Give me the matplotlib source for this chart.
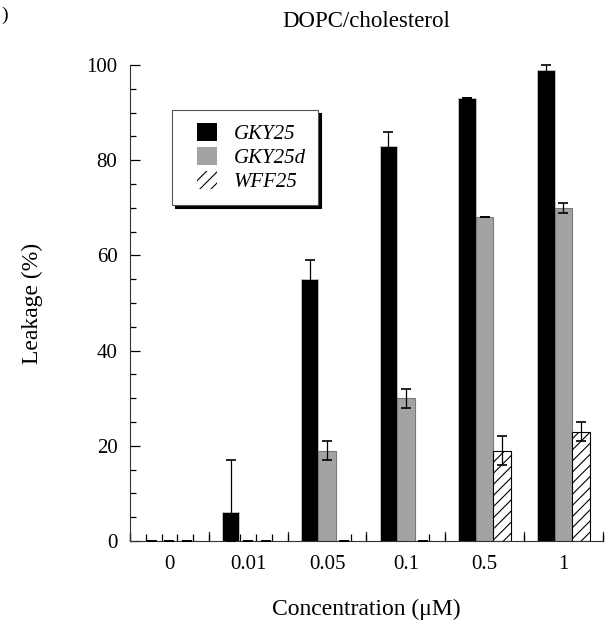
import matplotlib
matplotlib.use("Agg")
import matplotlib.pyplot as plt
import numpy as np
from matplotlib.ticker import MultipleLocator, FixedLocator
from matplotlib.patches import Patch, Rectangle
from matplotlib.legend_handler import HandlerPatch

plt.rcParams['font.family'] = ['Liberation Serif', 'DejaVu Serif']
plt.rcParams['hatch.linewidth'] = 0.8

categories = ['0', '0.01', '0.05', '0.1', '0.5', '1']
series_names = ['GKY25', 'GKY25d', 'WFF25']
gky25 = [0, 6, 55, 83, 93, 99]
gky25_err = [0, 11, 4, 3, 0, 1]
gky25d = [0, 0, 19, 30, 68, 70]
gky25d_err = [0, 0, 2, 2, 0, 1]
wff25 = [0, 0, 0, 0, 19, 23]
wff25_err = [0, 0, 0, 0, 3, 2]

fig = plt.figure(figsize=(6.12, 6.28), dpi=100)
ax = fig.add_axes([0.2124, 0.1385, 0.7726, 0.758])

x = np.arange(len(categories))
w = 0.222
styles = [
    dict(color='black', edgecolor='#c8c8c8', linewidth=0.6),
    dict(color='#a3a3a3', edgecolor='#7a7a7a', linewidth=0.8),
    dict(color='white', edgecolor='black', linewidth=0.8, hatch='///'),
]
vals = [gky25, gky25d, wff25]
errs = [gky25_err, gky25d_err, wff25_err]
for i, (v, e, st) in enumerate(zip(vals, errs, styles)):
    pos = x + (i - 1) * w
    ax.bar(pos, v, width=w, zorder=2, **st)
    v_arr = np.asarray(v, float)
    e_arr = np.asarray(e, float)
    lower = np.minimum(e_arr, v_arr)  # error bars do not go below the axis
    eb = ax.errorbar(pos, v, yerr=[lower, e_arr], fmt='none', ecolor='black',
                     elinewidth=0.9, capsize=3.5, capthick=1.2, zorder=3)
    for art in eb.lines[1]:
        art.set_clip_on(False)
    for art in eb.lines[2]:
        art.set_clip_on(False)

ax.set_xlim(-0.5, len(categories) - 0.5)
ax.set_ylim(0, 100)
ax.spines['top'].set_visible(False)
ax.spines['right'].set_visible(False)
ax.spines['left'].set_color('#333333')
ax.spines['bottom'].set_color('#333333')

ax.yaxis.set_major_locator(MultipleLocator(20))
ax.yaxis.set_minor_locator(MultipleLocator(5))
ax.tick_params(axis='y', which='major', direction='in', length=7, width=0.9, labelsize=15, pad=9)
ax.tick_params(axis='y', which='minor', direction='in', length=4, width=0.9)

ax.set_xticks(x)
ax.set_xticklabels(categories)
ax.tick_params(axis='x', which='major', length=0, labelsize=15, pad=10)
bounds = np.arange(-0.5, len(categories) - 0.4, 1.0)
fifths = np.arange(-0.5, len(categories) - 0.4, 0.2)
ax.xaxis.set_minor_locator(FixedLocator(fifths))
ax.tick_params(axis='x', which='minor', direction='in', length=5, width=0.9)
for b0 in bounds:
    ax.plot([b0, b0], [0, 2.0], color='#333333', lw=0.9, zorder=1, clip_on=False)

ax.set_xlabel('Concentration (μM)', fontsize=17, labelpad=18)
ax.set_ylabel('Leakage (%)', fontsize=17, labelpad=31)
ax.set_title('DOPC/cholesterol', fontsize=16.5, pad=27)


def right_box(legend, orig_handle, xdescent, ydescent, width, height, fontsize):
    bw = 14.4  # points
    return Rectangle((-xdescent + width - bw, -ydescent), bw, height)


handles = [Patch(facecolor='black', edgecolor='none'),
           Patch(facecolor='#a3a3a3', edgecolor='none'),
           Patch(facecolor='white', edgecolor='black', linewidth=0, hatch='///')]
leg = ax.legend(handles=handles, labels=series_names, loc='upper left',
                bbox_to_anchor=(0.089, 0.905), frameon=True, fancybox=False,
                shadow={'color': 'black', 'alpha': 1.0}, edgecolor='#555555',
                prop={'style': 'italic', 'size': 15}, handlelength=1.55,
                handleheight=0.95, labelspacing=0.15, borderpad=0.6,
                handletextpad=0.8, borderaxespad=0,
                handler_map={Patch: HandlerPatch(patch_func=right_box)})
leg.get_frame().set_linewidth(0.8)

fig.text(0.002, 0.99, ')', fontsize=14, ha='left', va='top')

fig.savefig('out.png', dpi=100)
